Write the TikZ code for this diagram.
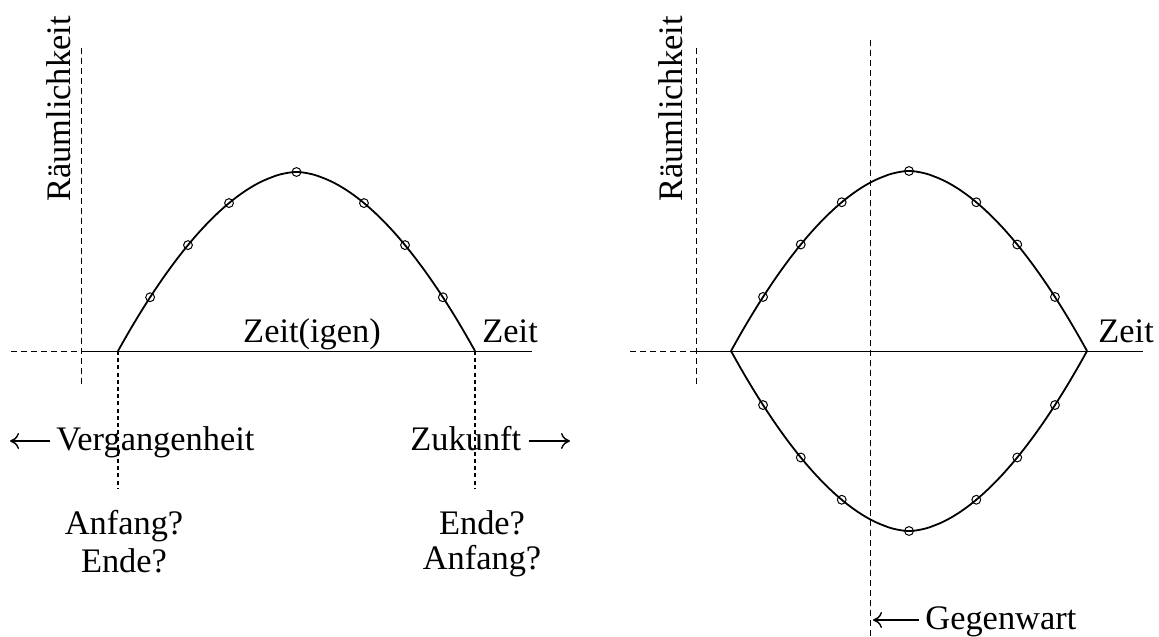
\documentclass[tikz,border=0pt]{standalone}
\usepackage{fontspec}
\setmainfont{Liberation Serif}
\usetikzlibrary{arrows.meta,calc}
\newcommand{\zeitfont}{\fontsize{17.2}{15}\selectfont}

\begin{document}
\begin{tikzpicture}[x=0.5pt,y=-0.5pt,>={To[length=4.5pt,width=8pt]},font=\zeitfont,
  axis/.style={line width=0.5pt},
  guide/.style={line width=0.5pt,dash pattern=on 3pt off 2pt},
  foot/.style={line width=0.6pt,dash pattern=on 2pt off 1.6pt},
  arch/.style={line width=0.9pt},
  dot/.style={line width=0.5pt},
  pfeil/.style={->,line width=0.7pt},
  lbl/.style={inner sep=0pt}]
  \useasboundingbox (0,0) rectangle (1159,636);

  % left: Zeit(igen)
  \coordinate (lw) at (11,351);
  \coordinate (lo) at (81,351);
  \coordinate (le) at (532,351);
  \coordinate (ltop) at (81,48);
  \coordinate (lbot) at (81,387);
  \coordinate (la) at (118,351);
  \coordinate (lb) at (475,351);
  \coordinate (la2) at (118,488);
  \coordinate (lb2) at (475,488);
  \draw[guide] (lw) -- (lo);
  \draw[axis] (lo) -- (le);
  \draw[guide] (ltop) -- (lbot);
  \draw[foot] (la) -- (la2);
  \draw[foot] (lb) -- (lb2);
  \draw[arch] plot[domain=-1:1,samples=80] ({296.5+178.5*\x},{351-179*(1-abs(\x)^1.8)});
  \foreach \u in {-0.82,-0.608,-0.378,0.378,0.608,0.82}
    \draw[dot] ({296.5+178.5*\u},{351-179*(1-abs(\u)^1.8)}) circle (2.2pt);
  \draw[dot] (296.5,172) circle (2.2pt);

  \node[lbl,rotate=90] (lraum) at (59,109) {Räumlichkeit};
  \node[lbl,anchor=base] (zeitigen) at (312,342) {Zeit(igen)};
  \node[lbl,anchor=base west] (lzeit) at (482,342) {Zeit};
  \node[lbl,anchor=base west] (verg) at (56,450) {Vergangenheit};
  \node[lbl,anchor=base west] (zuk) at (410,450) {Zukunft};
  \coordinate (vergtip) at (10,441);
  \coordinate (zuktip) at (570,441);
  \draw[pfeil] (verg.west |- vergtip) ++(-6,0) -- (vergtip);
  \draw[pfeil] (zuk.east |- zuktip) ++(7,0) -- (zuktip);
  \node[lbl,align=center,anchor=north] (lanf) at (124,510) {Anfang?\\[2.5pt]Ende?};
  \node[lbl,align=center,anchor=north] (lend) at (482,510) {Ende?\\[2.5pt]Anfang?};

  % right: Gegenwart
  \coordinate (rw) at (630,351);
  \coordinate (ro) at (696,351);
  \coordinate (re) at (1143,351);
  \coordinate (rtop) at (696,48);
  \coordinate (rbot) at (696,386);
  \coordinate (gtop) at (870,40);
  \coordinate (gbot) at (870,636);
  \draw[guide] (rw) -- (ro);
  \draw[axis] (ro) -- (re);
  \draw[guide] (rtop) -- (rbot);
  \draw[guide] (gtop) -- (gbot);
  \draw[arch] plot[domain=-1:1,samples=80] ({909+178*\x},{351-180*(1-abs(\x)^1.8)});
  \draw[arch] plot[domain=-1:1,samples=80] ({909+178*\x},{351+180*(1-abs(\x)^1.8)});
  \foreach \u in {-0.82,-0.608,-0.378,0.378,0.608,0.82} {
    \draw[dot] ({909+178*\u},{351-180*(1-abs(\u)^1.8)}) circle (2.2pt);
    \draw[dot] ({909+178*\u},{351+180*(1-abs(\u)^1.8)}) circle (2.2pt);
  }
  \draw[dot] (909,171) circle (2.2pt);
  \draw[dot] (909,531) circle (2.2pt);

  \node[lbl,rotate=90] (rraum) at (671,109) {Räumlichkeit};
  \node[lbl,anchor=base west] (rzeit) at (1098,342) {Zeit};
  \node[lbl,anchor=base west] (gegen) at (925,629) {Gegenwart};
  \coordinate (gegentip) at (873,620);
  \draw[pfeil] (gegen.west |- gegentip) ++(-6,0) -- (gegentip);
\end{tikzpicture}
\end{document}
